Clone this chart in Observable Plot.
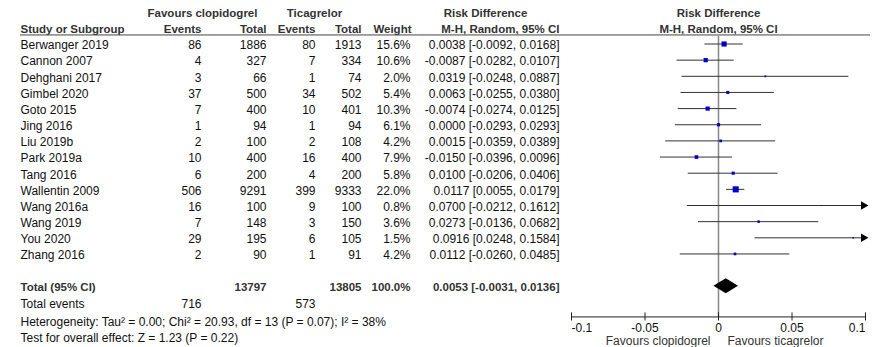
<!DOCTYPE html>
<html><head><meta charset="utf-8">
<script src="https://cdn.jsdelivr.net/npm/d3@7"></script>
<script src="https://cdn.jsdelivr.net/npm/@observablehq/plot@0.6"></script>
<style>html,body{margin:0;padding:0;background:#fff;overflow:hidden}</style>
</head><body><div id="chart"></div>
<script>
// ---- data ----
const studies = ["Berwanger 2019","Cannon 2007","Dehghani 2017","Gimbel 2020","Goto 2015","Jing 2016","Liu 2019b","Park 2019a","Tang 2016","Wallentin 2009","Wang 2016a","Wang 2019","You 2020","Zhang 2016"];
const clopiEvents = [86,4,3,37,7,1,2,10,6,506,16,7,29,2];
const clopiTotal = [1886,327,66,500,400,94,100,400,200,9291,100,148,195,90];
const ticaEvents = [80,7,1,34,10,1,2,16,4,399,9,3,6,1];
const ticaTotal = [1913,334,74,502,401,94,108,400,200,9333,100,150,105,91];
const weights = [15.6,10.6,2.0,5.4,10.3,6.1,4.2,7.9,5.8,22.0,0.8,3.6,1.5,4.2];
const rd = [0.0038,-0.0087,0.0319,0.0063,-0.0074,0.0000,0.0015,-0.0150,0.0100,0.0117,0.0700,0.0273,0.0916,0.0112];
const ciLow = [-0.0092,-0.0282,-0.0248,-0.0255,-0.0274,-0.0293,-0.0359,-0.0396,-0.0206,0.0055,-0.0212,-0.0136,0.0248,-0.0260];
const ciHigh = [0.0168,0.0107,0.0887,0.0380,0.0125,0.0293,0.0389,0.0096,0.0406,0.0179,0.1612,0.0682,0.1584,0.0485];
const pooledRD = 0.0053, pooledLow = -0.0031, pooledHigh = 0.0136;
const totalClopi = 13797, totalTica = 13805, totalWeight = "100.0%";
const eventsClopi = 716, eventsTica = 573;
const heterogeneity = "Heterogeneity: Tau\u00b2 = 0.00; Chi\u00b2 = 20.93, df = 13 (P = 0.07); I\u00b2 = 38%";
const overallTest = "Test for overall effect: Z = 1.23 (P = 0.22)";
const tickValues = [-0.1, -0.05, 0, 0.05, 0.1];
const tickLabels = ["-0.1", "-0.05", "0", "0.05", "0.1"];

// ---- layout ----
const FONT = "'Liberation Sans', Arial, sans-serif";
const HEAD = "#333";
const TXT = "#111";
const TOTAL_ROW = 15, EVENTS_ROW = 16, HET_ROW = 17.1, TEST_ROW = 18.15;
const AXIS_ROW = 16.9, TICKLAB_ROW = 17.62, FAV_ROW = 18.38;
const H1 = -2.02, H2 = -1.02, RULE_ROW = -0.56;

const fmt = v => v.toFixed(4);
const rows = studies.map((s, i) => ({
  row: i, study: s, e1: String(clopiEvents[i]), n1: String(clopiTotal[i]), e2: String(ticaEvents[i]), n2: String(ticaTotal[i]),
  w: weights[i], rd: rd[i], lo: ciLow[i], hi: ciHigh[i],
  label: `${fmt(rd[i])} [${fmt(ciLow[i])}, ${fmt(ciHigh[i])}]`, wlabel: weights[i].toFixed(1) + "%"
}));

const col = (data, text, dx, anchor, extra = {}) =>
  Plot.text(data, {y: "row", text, frameAnchor: "left", dx, textAnchor: anchor, dy: 1.5, fontSize: 12, fill: TXT, ...extra});
const one = (t, row, dx, anchor, extra = {}) => col([{row, t}], "t", dx, anchor, extra);
const bold = {fontWeight: "bold", fontSize: 11.5, fill: HEAD};

const totalRow = [{row: TOTAL_ROW, a: "Total (95% CI)", n1: String(totalClopi), n2: String(totalTica), w: totalWeight,
  ci: `${fmt(pooledRD)} [${fmt(pooledLow)}, ${fmt(pooledHigh)}]`}];
const diamond = [
  {x: pooledLow, y1: TOTAL_ROW, y2: TOTAL_ROW},
  {x: pooledRD, y1: TOTAL_ROW - 0.46, y2: TOTAL_ROW + 0.46},
  {x: pooledHigh, y1: TOTAL_ROW, y2: TOTAL_ROW}
];

const chart = Plot.plot({
  width: 872, height: 347,
  marginLeft: 0, marginRight: 0, marginTop: 0, marginBottom: 0,
  style: {fontFamily: FONT, fontSize: "12px", color: TXT, background: "#fff"},
  x: {type: "linear", domain: [-0.1, 0.1], range: [571, 865], axis: null},
  y: {type: "linear", domain: [0, 1], range: [43.5, 59.65], axis: null},
  r: {type: "sqrt", domain: [0, 100], range: [0, 7.34]},
  marks: [
    // headers
    one("Favours clopidogrel", H1, 202, "middle", bold),
    one("Ticagrelor", H1, 314, "middle", bold),
    one("Risk Difference", H1, 485, "middle", bold),
    one("Risk Difference", H1, 718, "middle", bold),
    one("Study or Subgroup", H2, 20, "start", bold),
    one("Events", H2, 201, "end", bold),
    one("Total", H2, 266, "end", bold),
    one("Events", H2, 315, "end", bold),
    one("Total", H2, 361, "end", bold),
    one("Weight", H2, 411, "end", bold),
    one("M-H, Random, 95% CI", H2, 559, "end", bold),
    one("M-H, Random, 95% CI", H2, 718, "middle", bold),
    Plot.ruleY([RULE_ROW], {y: d => d, insetLeft: 20, insetRight: 2, stroke: "#444", strokeWidth: 1}),
    // table
    col(rows, "study", 20, "start"),
    col(rows, "e1", 201, "end"),
    col(rows, "n1", 266, "end"),
    col(rows, "e2", 315, "end"),
    col(rows, "n2", 361, "end"),
    col(rows, "wlabel", 410, "end"),
    col(rows, "label", 559, "end"),
    col(totalRow, "a", 20, "start", bold),
    col(totalRow, "n1", 266, "end", bold),
    col(totalRow, "n2", 361, "end", bold),
    col(totalRow, "w", 410, "end", bold),
    col(totalRow, "ci", 559, "end", bold),
    one("Total events", EVENTS_ROW, 20, "start"),
    one(String(eventsClopi), EVENTS_ROW, 201, "end"),
    one(String(eventsTica), EVENTS_ROW, 315, "end"),
    one(heterogeneity, HET_ROW, 20, "start"),
    one(overallTest, TEST_ROW, 20, "start"),
    // forest
    Plot.ruleX([0], {x: d => d, y1: RULE_ROW + 0.1, y2: AXIS_ROW, stroke: "#888", strokeWidth: 1.5}),
    Plot.ruleY(rows, {y: "row", x1: d => Math.max(d.lo, -0.1), x2: d => Math.min(d.hi, 0.1), stroke: "#333", strokeWidth: 1}),
    Plot.dot(rows.filter(d => d.hi > 0.1), {x: () => 0.1, y: "row", symbol: "triangle", rotate: 90, r: 3.2, fill: "#000", dx: -2}),
    Plot.dot(rows, {x: "rd", y: "row", r: "w", symbol: "square", fill: "#0000cc"}),
    Plot.areaY(diamond, {x: "x", y1: "y1", y2: "y2", fill: "#000", curve: "linear"}),
    // axis
    Plot.ruleY([AXIS_ROW], {y: d => d, x1: -0.1, x2: 0.1, stroke: "#222", strokeWidth: 1}),
    Plot.ruleX(tickValues, {x: d => d, y1: AXIS_ROW - 0.25, y2: AXIS_ROW + 0.25, stroke: "#222"}),
    Plot.text(tickValues.slice(0, 1), {x: d => d, y: () => TICKLAB_ROW, text: d => tickLabels[tickValues.indexOf(d)], textAnchor: "start", fontSize: 12, fill: TXT}),
    Plot.text(tickValues.slice(1, 4), {x: d => d, y: () => TICKLAB_ROW, text: d => tickLabels[tickValues.indexOf(d)], textAnchor: "middle", fontSize: 12, fill: TXT}),
    Plot.text(tickValues.slice(4), {x: d => d, y: () => TICKLAB_ROW, text: d => tickLabels[tickValues.indexOf(d)], textAnchor: "end", fontSize: 12, fill: TXT}),
    Plot.text(["Favours clopidogrel"], {x: () => 0, y: () => FAV_ROW, text: d => d, textAnchor: "end", dx: -8, fontSize: 12, fill: "#333"}),
    Plot.text(["Favours ticagrelor"], {x: () => 0, y: () => FAV_ROW, text: d => d, textAnchor: "start", dx: 9, fontSize: 12, fill: "#333"})
  ]
});
document.getElementById("chart").appendChild(chart);
</script>
</body></html>
